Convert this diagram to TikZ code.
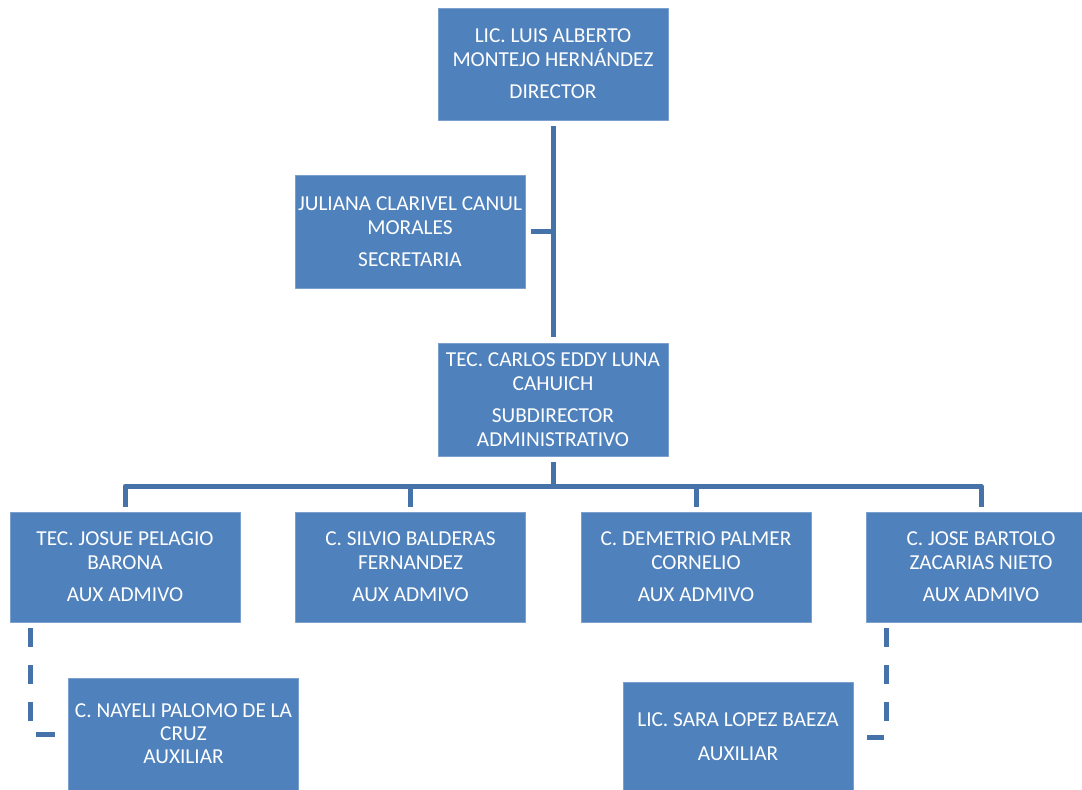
\documentclass[tikz,border=0pt]{standalone}
\usepackage{fontspec}
\setmainfont{Carlito}
\definecolor{cajaazul}{RGB}{79,129,189}
\definecolor{lineaazul}{RGB}{70,114,170}

\begin{document}
\begin{tikzpicture}[x=1pt,y=-1pt,line join=round,
    caja/.style={fill=cajaazul,draw=cajaazul!75!white,line width=0.8pt,text=white,
      minimum width=230pt,minimum height=112pt,align=center,inner sep=0pt,
      font=\fontsize{21.3}{24}\selectfont},
    enlace/.style={draw=lineaazul,line width=5pt,shorten <=6pt,shorten >=6pt},
    punteado/.style={enlace,dash pattern=on 19pt off 18pt}]
        \useasboundingbox (0,0) rectangle (1082,790);

        % Direccion y secretaria
        \node[caja] (dir) at (553,64) {LIC. LUIS ALBERTO\\MONTEJO HERNÁNDEZ\\[8pt]DIRECTOR};
        \node[caja,minimum height=113pt] (sec) at (410,231.5) {JULIANA CLARIVEL CANUL\\MORALES\\[8pt]SECRETARIA};
        \node[caja,minimum height=113pt] (sub) at (553,399.5) {TEC. CARLOS EDDY LUNA\\CAHUICH\\[8pt]SUBDIRECTOR\\ADMINISTRATIVO};

        \draw[enlace] (dir.south) -- (sub.north);
        \draw[enlace,shorten >=0pt] (sec.east) -- (sec.east -| dir.south);

        % Auxiliares administrativos
        \node[caja,minimum height=110pt] (aux1) at (125,567) {TEC. JOSUE PELAGIO\\BARONA\\[8pt]AUX ADMIVO};
        \node[caja,minimum height=110pt] (aux2) at (410.5,567) {C. SILVIO BALDERAS\\FERNANDEZ\\[8pt]AUX ADMIVO};
        \node[caja,minimum height=110pt] (aux3) at (696,567) {C. DEMETRIO PALMER\\CORNELIO\\[8pt]AUX ADMIVO};
        \node[caja,minimum height=110pt] (aux4) at (981,567) {C. JOSE BARTOLO\\ZACARIAS NIETO\\[8pt]AUX ADMIVO};

        \coordinate (bus) at (553,486);
        \draw[enlace,shorten >=0pt] (sub.south) -- (bus);
        \foreach \n in {aux1,aux2,aux3,aux4}
            \draw[enlace,shorten <=0pt,shorten >=5pt] (bus) -| (\n.north);

        % Auxiliares (linea punteada)
        \node[caja,font=\fontsize{21.3}{23}\selectfont] (nay) at (183.5,734) {C. NAYELI PALOMO DE LA\\CRUZ\\AUXILIAR};
        \node[caja,minimum height=110pt] (sara) at (738,737) {LIC. SARA LOPEZ BAEZA\\[10pt]AUXILIAR};

        \coordinate (d1) at ([xshift=21pt]aux1.south west);
        \coordinate (d4) at ([xshift=21pt]aux4.south west);
        \draw[punteado,shorten >=13pt] (d1) |- (nay.west);
        \draw[punteado,shorten >=14pt] (d4) |- (sara.east);

    \end{tikzpicture}
\end{document}
